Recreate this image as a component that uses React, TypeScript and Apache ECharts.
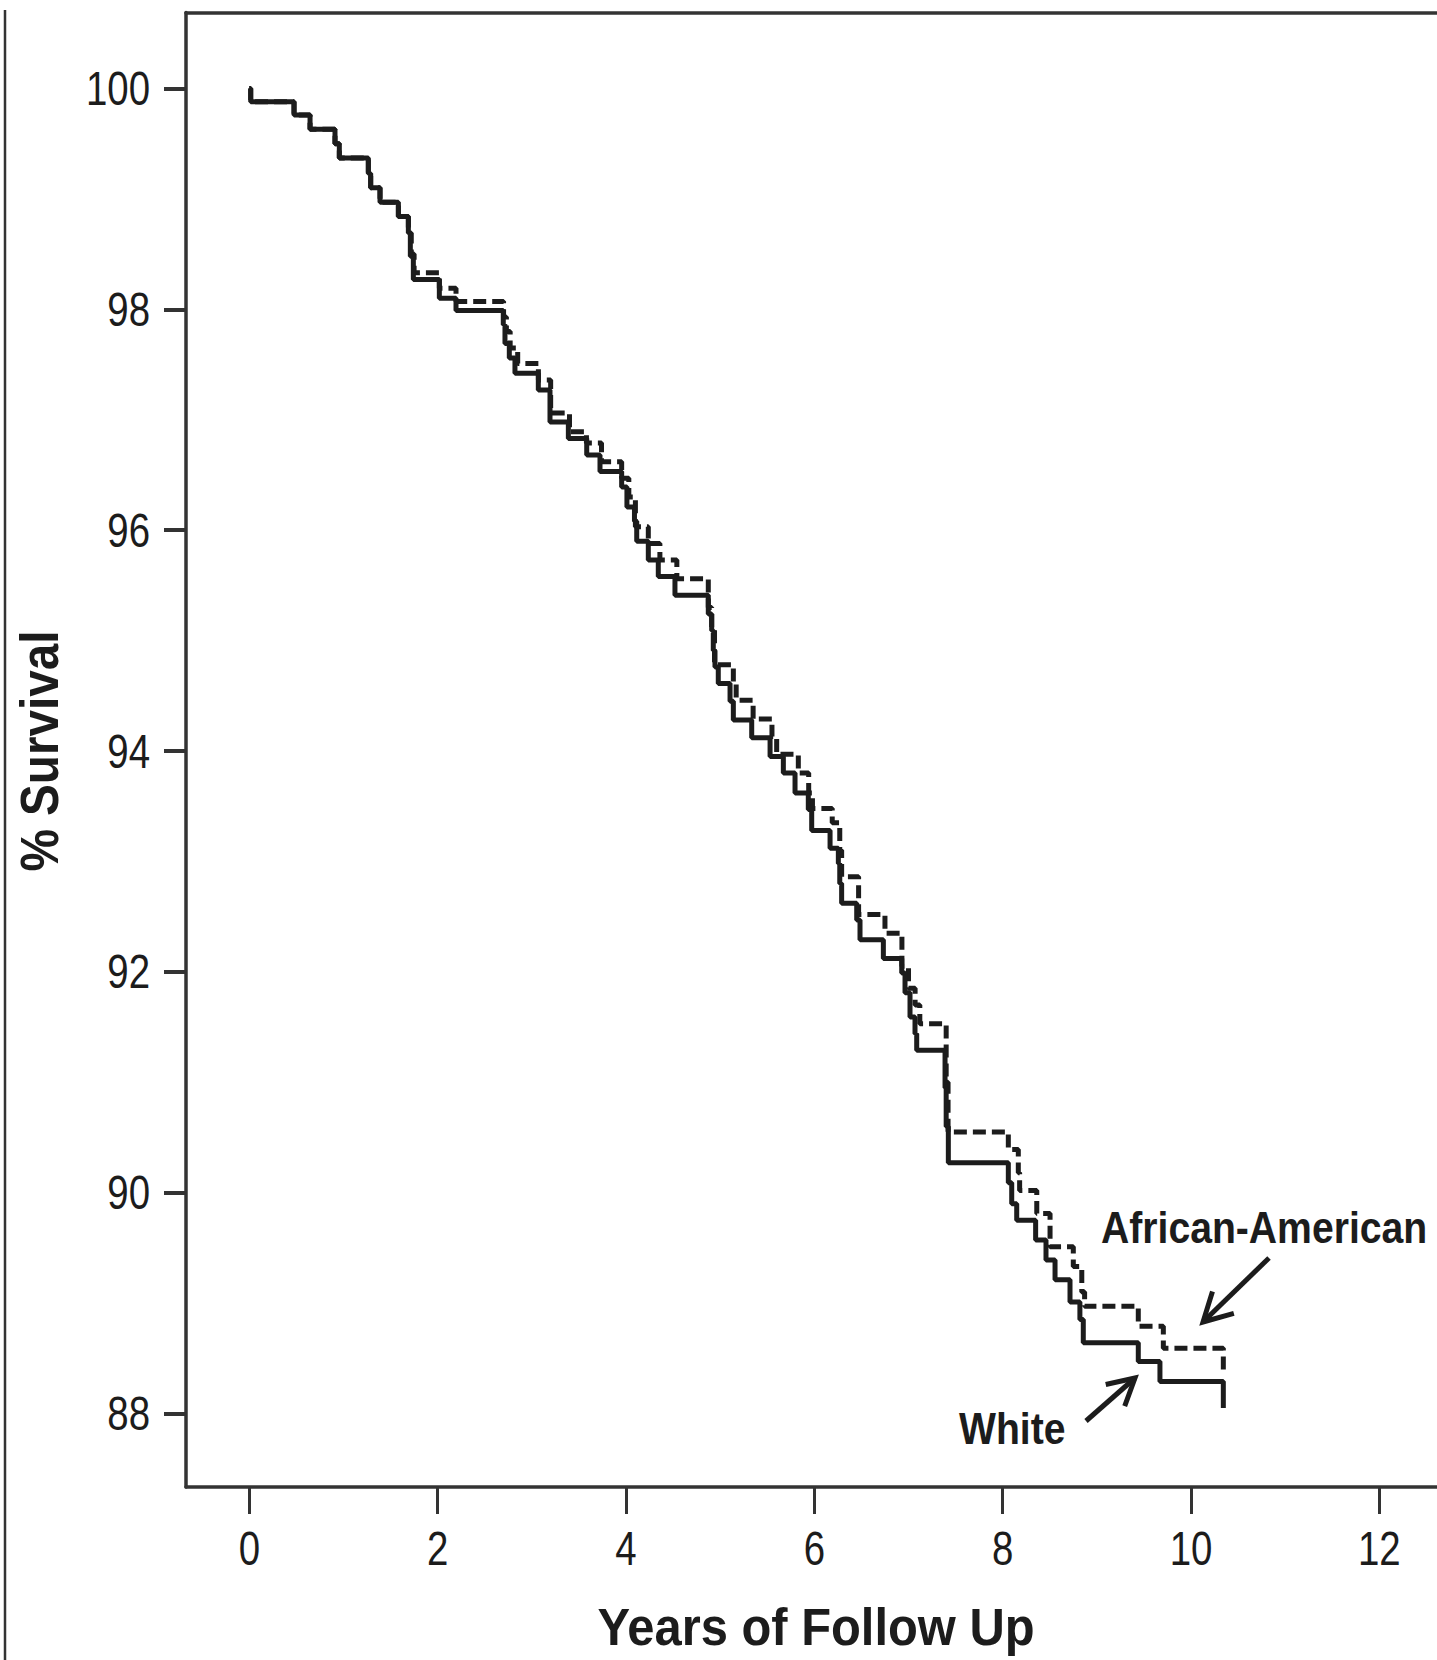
import React, { useEffect, useRef } from "react";
import * as echarts from "echarts";

// ---- data ----
const xTicks = [0, 2, 4, 6, 8, 10, 12];
const yTicks = [88, 90, 92, 94, 96, 98, 100];
const seriesNames = ["African-American", "White"];
const xTitle = "Years of Follow Up";
const yTitle = "% Survival";

// [years, % survival after the drop]
const whiteSurvival: [number, number][] = [
  [0, 100], [0.015, 99.88], [0.475, 99.76], [0.645, 99.63], [0.91, 99.5], [0.956, 99.37],
  [1.264, 99.23], [1.289, 99.1], [1.388, 98.97], [1.583, 98.84], [1.689, 98.69], [1.71, 98.48],
  [1.742, 98.27], [2.018, 98.1], [2.195, 97.99], [2.697, 97.86], [2.715, 97.69], [2.761, 97.56],
  [2.821, 97.42], [3.069, 97.27], [3.193, 96.98], [3.388, 96.83], [3.583, 96.68], [3.724, 96.53],
  [3.954, 96.39], [4.01, 96.21], [4.09, 96.08], [4.114, 95.9], [4.237, 95.73], [4.343, 95.58],
  [4.52, 95.41], [4.874, 95.24], [4.91, 95.09], [4.927, 94.91], [4.945, 94.76], [4.98, 94.61],
  [5.105, 94.45], [5.14, 94.28], [5.335, 94.12], [5.53, 93.95], [5.671, 93.8], [5.795, 93.62],
  [5.936, 93.47], [5.972, 93.28], [6.167, 93.12], [6.255, 92.98], [6.27, 92.8], [6.29, 92.62],
  [6.45, 92.47], [6.485, 92.29], [6.733, 92.12], [6.928, 91.99], [6.963, 91.81], [7.016, 91.59],
  [7.069, 91.44], [7.087, 91.29], [7.388, 90.95], [7.4, 90.6], [7.423, 90.27], [8.06, 90.09],
  [8.096, 89.9], [8.149, 89.75], [8.35, 89.57], [8.46, 89.39], [8.556, 89.21], [8.715, 89.01],
  [8.82, 88.85], [8.856, 88.64], [9.44, 88.47], [9.67, 88.29], [10.343, 88.05],
];

const africanAmericanSurvival: [number, number][] = [
  [0, 100], [0.015, 99.88], [0.475, 99.76], [0.645, 99.63], [0.91, 99.5], [0.956, 99.37],
  [1.264, 99.23], [1.289, 99.1], [1.388, 98.97], [1.583, 98.84], [1.689, 98.69], [1.72, 98.5],
  [1.75, 98.33], [2.018, 98.19], [2.195, 98.07], [2.7, 97.93], [2.73, 97.8], [2.77, 97.65],
  [2.85, 97.51], [3.07, 97.36], [3.2, 97.06], [3.4, 96.89], [3.58, 96.79], [3.74, 96.62],
  [3.954, 96.47], [4.03, 96.3], [4.1, 96.03], [4.237, 95.88], [4.36, 95.73], [4.54, 95.56],
  [4.874, 95.3], [4.91, 95.1], [4.94, 94.78], [5.14, 94.62], [5.17, 94.46], [5.35, 94.29],
  [5.55, 94.13], [5.6, 93.97], [5.83, 93.8], [5.94, 93.62], [5.98, 93.48], [6.19, 93.35],
  [6.27, 93.1], [6.29, 92.86], [6.47, 92.52], [6.75, 92.35], [6.93, 92.05], [7.0, 91.85],
  [7.07, 91.7], [7.12, 91.53], [7.4, 91.0], [7.42, 90.55], [8.06, 90.39], [8.166, 90.18],
  [8.18, 90.02], [8.362, 89.81], [8.503, 89.51], [8.75, 89.33], [8.84, 89.1], [8.87, 88.97],
  [9.44, 88.79], [9.706, 88.59], [10.343, 88.38],
];

// ---- layout / style ----
const W = 1437;
const H = 1660;
const X_MIN = -0.6722;
const X_MAX = 12.612;
const Y_MIN = 87.334;
const Y_MAX = 100.688;
const INK = "#1c1c1c";
const AXIS = "#333333";
const SANS = '"Liberation Sans", Arial, Helvetica, sans-serif';

function arrow(tail: [number, number], tip: [number, number], wing: number, spread: number) {
  const dx = tail[0] - tip[0];
  const dy = tail[1] - tip[1];
  const len = Math.hypot(dx, dy);
  const ux = dx / len;
  const uy = dy / len;
  const rot = (a: number): [number, number] => [
    tip[0] + wing * (ux * Math.cos(a) - uy * Math.sin(a)),
    tip[1] + wing * (ux * Math.sin(a) + uy * Math.cos(a)),
  ];
  const stroke = { stroke: INK, lineWidth: 5, fill: "none", lineCap: "butt", lineJoin: "miter" };
  return [
    { type: "line", shape: { x1: tail[0], y1: tail[1], x2: tip[0], y2: tip[1] }, style: stroke },
    { type: "polyline", shape: { points: [rot(spread), tip, rot(-spread)] }, style: stroke },
  ];
}

function label(text: string, x: number, y: number, font: string, align: string, sx: number, rotation = 0) {
  return {
    type: "text",
    x,
    y,
    rotation,
    scaleX: sx,
    scaleY: 1,
    style: { text, font, fill: INK, textAlign: align, textVerticalAlign: "middle", align, verticalAlign: "middle" },
  };
}

export default function App() {
  const ref = useRef<HTMLDivElement>(null);

  useEffect(() => {
    if (!ref.current) return;
    const chart = echarts.init(ref.current, null, { renderer: "svg" });
    const axisLineStyle = { color: AXIS, width: 3.5 };
    chart.setOption({
      animation: false,
      backgroundColor: "#ffffff",
      grid: { left: 186, top: 12.5, right: 0, bottom: H - 1487, containLabel: false, show: false },
      xAxis: [
        {
          type: "value",
          position: "bottom",
          min: X_MIN,
          max: X_MAX,
          axisLine: { show: true, onZero: false, lineStyle: axisLineStyle },
          axisTick: { show: true, inside: false, length: 27, customValues: xTicks, lineStyle: { color: AXIS, width: 3 } },
          axisLabel: { show: false },
          splitLine: { show: false },
        },
        {
          type: "value",
          position: "top",
          min: X_MIN,
          max: X_MAX,
          axisLine: { show: true, onZero: false, lineStyle: axisLineStyle },
          axisTick: { show: false },
          axisLabel: { show: false },
          splitLine: { show: false },
        },
      ],
      yAxis: {
        type: "value",
        position: "left",
        min: Y_MIN,
        max: Y_MAX,
        axisLine: { show: true, onZero: false, lineStyle: axisLineStyle },
        axisTick: { show: true, inside: false, length: 22, customValues: yTicks, lineStyle: { color: AXIS, width: 4 } },
        axisLabel: { show: false },
        splitLine: { show: false },
      },
      series: [
        {
          name: seriesNames[0],
          type: "line",
          step: "end",
          xAxisIndex: 0,
          data: africanAmericanSurvival,
          showSymbol: false,
          symbol: "none",
          lineStyle: { color: INK, width: 5, type: [13, 6], cap: "butt" },
          z: 2,
        },
        {
          name: seriesNames[1],
          type: "line",
          step: "end",
          xAxisIndex: 0,
          data: whiteSurvival,
          showSymbol: false,
          symbol: "none",
          lineStyle: { color: INK, width: 5, type: "solid" },
          z: 3,
        },
      ],
    });

    // tick labels placed through the axes' own scales (narrow lettering as in the reference)
    const tickFont = `48px ${SANS}`;
    const xLabelY = 1548;
    const yLabelX = 150;
    const tickLabels: any[] = [];
    xTicks.forEach((v) => {
      const px = chart.convertToPixel({ xAxisIndex: 0 }, v) as number;
      tickLabels.push(label(String(v), px, xLabelY, tickFont, "center", 0.8));
    });
    yTicks.forEach((v) => {
      const py = chart.convertToPixel({ yAxisIndex: 0 }, v) as number;
      tickLabels.push(label(String(v), yLabelX, py, tickFont, "right", 0.8));
    });

    chart.setOption({
      graphic: [
        { type: "line", shape: { x1: 5, y1: 10, x2: 5, y2: H }, style: { stroke: AXIS, lineWidth: 2.5 } },
        ...tickLabels,
        label(xTitle, 816, 1627, `bold 52px ${SANS}`, "center", 0.94),
        label(yTitle, 40, 751, `bold 53px ${SANS}`, "center", 0.9, Math.PI / 2),
        label(seriesNames[0], 1101, 1228, `bold 45px ${SANS}`, "left", 0.87),
        label(seriesNames[1], 959, 1429, `bold 45px ${SANS}`, "left", 0.87),
        ...arrow([1269, 1258], [1203, 1322], 32, 0.5),
        ...arrow([1086, 1421], [1135, 1378], 30, 0.5),
      ],
    });
    return () => chart.dispose();
  }, []);

  return (
    <div
      ref={ref}
      style={{ position: "absolute", left: 0, top: 0, width: W, height: H, background: "#ffffff", overflow: "hidden" }}
    />
  );
}
